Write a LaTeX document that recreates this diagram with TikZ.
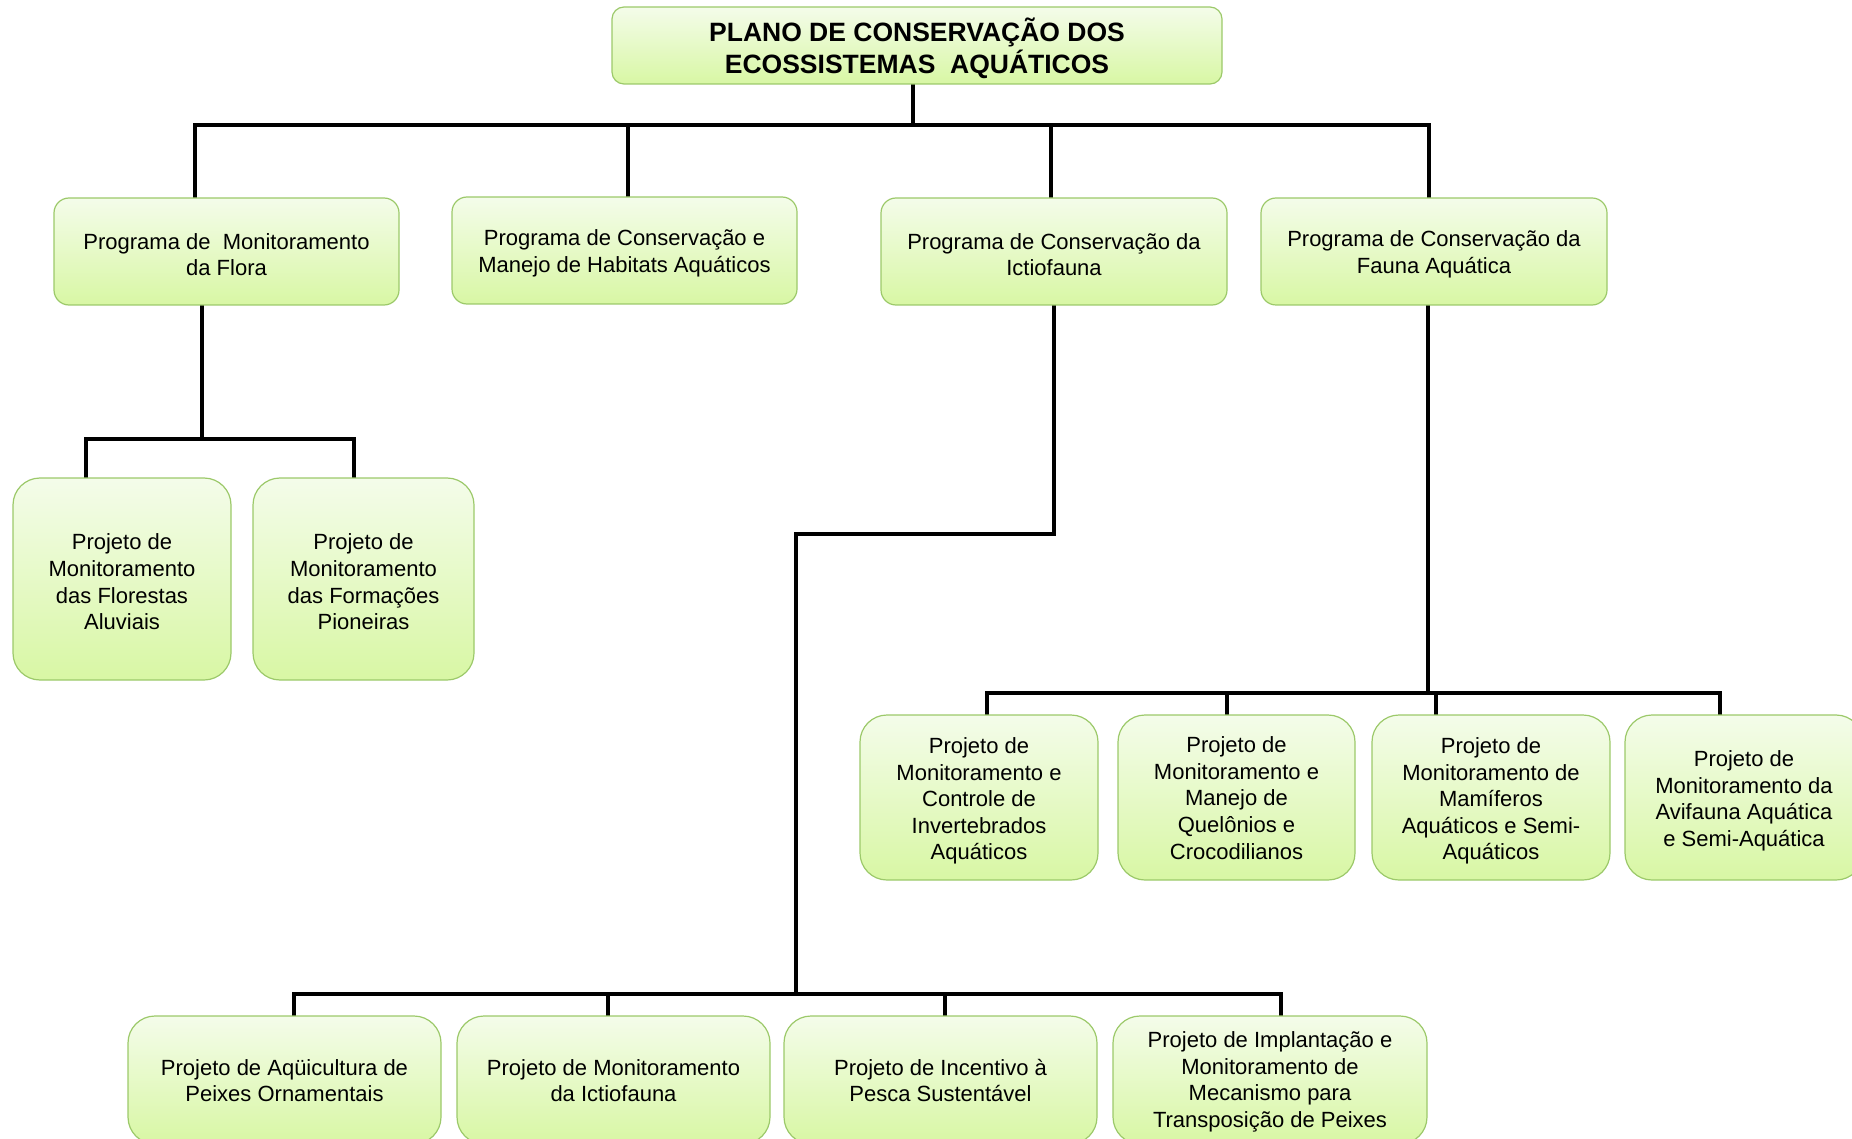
\documentclass[tikz,border=0pt]{standalone}
\usepackage{fontspec}
\setmainfont{Liberation Sans}
\usetikzlibrary{backgrounds}
\definecolor{gTop}{HTML}{F4FCEA}
\definecolor{gBot}{HTML}{D8F7A4}
\definecolor{gBorder}{HTML}{9CC96A}
\tikzset{
  box/.style={rectangle, draw=gBorder, line width=1.2pt, top color=gTop, bottom color=gBot,
    inner sep=0pt},
  txt/.style={align=center, text=black, inner sep=0pt, font=\fontsize{22}{26.6}\selectfont},
  ttl/.style={align=center, text=black, inner sep=0pt, font=\fontsize{26.5}{32}\selectfont\bfseries},
  topbox/.style={box, rounded corners=12pt},
  progbox/.style={box, rounded corners=15pt, minimum height=107pt},
  tallbox/.style={box, rounded corners=27pt},
  conn/.style={draw=black, line width=4pt, line cap=rect}
}
% #1 style, #2 name, #3 width, #4 height, #5 centre, #6 text shift, #7 text
\newcommand\mybox[7]{%
  \node[#1, minimum width=#3pt, minimum height=#4pt,
    label={[txt, yshift=#6pt]center:{#7}}] (#2) at (#5) {};}
\begin{document}
\begin{tikzpicture}[x=1pt,y=-1pt]
\useasboundingbox (0,0) rectangle (1852,1139);
% top
\node[topbox, minimum width=610pt, minimum height=77pt,
  label={[ttl, yshift=-2.5pt]center:{PLANO DE CONSERVAÇÃO DOS\\ECOSSISTEMAS~ AQUÁTICOS}}] (top) at (917,45.5) {};
% programs
\mybox{progbox}{flora}{345}{107}{226.5,251.5}{-3}{Programa de~ Monitoramento\\da Flora}
\mybox{progbox}{habit}{345}{107}{624.5,250.5}{-3}{Programa de Conservação e\\Manejo de Habitats Aquáticos}
\mybox{progbox}{ictio}{346}{107}{1054,251.5}{-3}{Programa de Conservação da\\Ictiofauna}
\mybox{progbox}{fauna}{346}{107}{1434,251.5}{-3}{Programa de Conservação da\\Fauna Aquática}
% flora children
\mybox{tallbox}{fl1}{218}{202}{122,579}{-3}{Projeto de\\Monitoramento\\das Florestas\\Aluviais}
\mybox{tallbox}{fl2}{221}{202}{363.5,579}{-3}{Projeto de\\Monitoramento\\das Formações\\Pioneiras}
% fauna children
\mybox{tallbox}{fa1}{238}{165}{979,797.5}{-3.5}{Projeto de\\Monitoramento e\\Controle de\\Invertebrados\\Aquáticos}
\mybox{tallbox}{fa2}{237}{165}{1236.5,797.5}{-0.5}{Projeto de\\Monitoramento e\\Manejo de\\Quelônios e\\Crocodilianos}
\mybox{tallbox}{fa3}{238}{165}{1491,797.5}{-3.5}{Projeto de\\Monitoramento de\\Mamíferos\\Aquáticos e Semi-\\Aquáticos}
\mybox{tallbox}{fa4}{238}{165}{1744,797.5}{-3.5}{Projeto de\\Monitoramento da\\Avifauna Aquática\\e Semi-Aquática}
% ictio children
\mybox{tallbox}{ic1}{313}{128}{284.5,1080}{-0.5}{Projeto de Aqüicultura de\\Peixes Ornamentais}
\mybox{tallbox}{ic2}{313}{128}{613.5,1080}{-0.5}{Projeto de Monitoramento\\da Ictiofauna}
\mybox{tallbox}{ic3}{313}{128}{940.5,1080}{-0.5}{Projeto de Incentivo à\\Pesca Sustentável}
\mybox{tallbox}{ic4}{314}{128}{1270,1080}{-2}{Projeto de Implantação e\\Monitoramento de\\Mecanismo para\\Transposição de Peixes}
% bus coordinates
\coordinate (b0) at (913,125);
\coordinate (d1) at (195,125);
\coordinate (d2) at (628,125);
\coordinate (d3) at (1051,125);
\coordinate (d4) at (1429,125);
\coordinate (fv) at (202,439);
\coordinate (f1) at (86,439);
\coordinate (f2) at (354,439);
\coordinate (iv1) at (1054,534);
\coordinate (iv2) at (796,534);
\coordinate (iv3) at (796,994);
\coordinate (i1) at (294,994);
\coordinate (i2) at (608,994);
\coordinate (i3) at (945,994);
\coordinate (i4) at (1281,994);
\coordinate (av) at (1428,693);
\coordinate (a1) at (987,693);
\coordinate (a2) at (1227,693);
\coordinate (a3) at (1436,693);
\coordinate (a4) at (1720,693);
\begin{scope}[on background layer]
\draw[conn] (top.south -| b0) -- (b0);
\draw[conn] (d1) -- (d4);
\foreach \d/\n in {d1/flora,d2/habit,d3/ictio,d4/fauna}
  \draw[conn] (\d) -- (\d |- \n.north);
% flora
\draw[conn] (flora.south -| fv) -- (fv);
\draw[conn] (f1) -- (f2);
\draw[conn] (f1) -- (f1 |- fl1.north);
\draw[conn] (f2) -- (f2 |- fl2.north);
% ictio
\draw[conn] (ictio.south -| iv1) -- (iv1) -- (iv2) -- (iv3);
\draw[conn] (i1) -- (i4);
\foreach \d/\n in {i1/ic1,i2/ic2,i3/ic3,i4/ic4}
  \draw[conn] (\d) -- (\d |- \n.north);
% fauna
\draw[conn] (fauna.south -| av) -- (av);
\draw[conn] (a1) -- (a4);
\foreach \d/\n in {a1/fa1,a2/fa2,a3/fa3,a4/fa4}
  \draw[conn] (\d) -- (\d |- \n.north);
\end{scope}
\end{tikzpicture}
\end{document}
